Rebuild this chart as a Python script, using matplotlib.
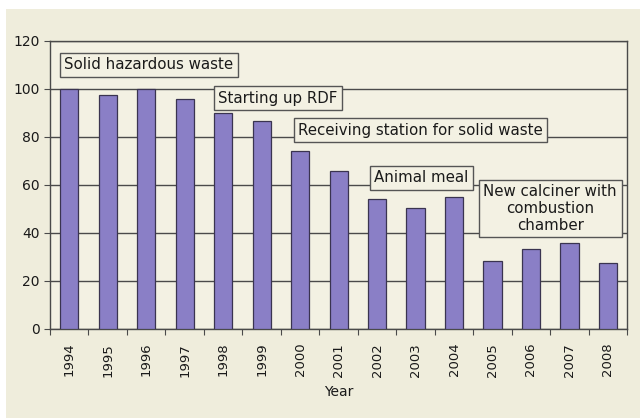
import matplotlib.pyplot as plt
import matplotlib.patches as mpatches

# datos
years = ['1994', '1995', '1996', '1997', '1998', '1999', '2000', '2001',
         '2002', '2003', '2004', '2005', '2006', '2007', '2008']
values = [100, 97.5, 99.8, 96, 90, 86.5, 74, 66, 54, 50.5, 55, 28.5, 33.5, 36, 27.5]

notes = ['Solid hazardous waste', 'Starting up RDF', 'Receiving station for solid waste',
         'Animal meal', 'New calciner with\ncombustion\nchamber']
note_x = [2.07, 5.43, 9.13, 9.15, 12.5]
note_y = [110, 96.2, 82.7, 63.1, 50.2]

bg = '#EFEDDC'
plot_bg = '#F3F1E3'
bar_col = '#8A7FC6'
line_col = '#4a4a4a'

fig = plt.figure(figsize=(6.4, 4.18), dpi=100)
fig.patch.set_facecolor('white')
fig.add_artist(mpatches.Rectangle((0.01, 0), 0.99, 0.978, transform=fig.transFigure,
                                  facecolor=bg, edgecolor='none', zorder=-10))

ax = fig.add_axes([0.078, 0.213, 0.902, 0.689])
ax.set_facecolor(plot_bg)

x = list(range(len(years)))
ax.bar(x, values, width=0.47, color=bar_col, edgecolor='#3a3450', linewidth=0.9, zorder=3)

ax.set_xlim(-0.5, len(years) - 0.5)
ax.set_ylim(0, 120)
ax.set_yticks([0, 20, 40, 60, 80, 100, 120])
ax.yaxis.grid(True, color=line_col, linewidth=1.0, zorder=0)
ax.set_axisbelow(True)

# ticks entre categorias, estilo Excel
ax.set_xticks([i - 0.5 for i in range(len(years) + 1)], minor=False)
ax.set_xticklabels([])
ax.set_xticks(x, minor=True)
ax.set_xticklabels(years, minor=True, rotation=90, fontsize=9.5, color='#1a1a1a')
ax.tick_params(axis='x', which='major', length=4, direction='out', color=line_col)
ax.tick_params(axis='x', which='minor', length=0, pad=10)
ax.tick_params(axis='y', length=4, direction='out', color=line_col, labelsize=10,
               labelcolor='#1a1a1a')

for s in ax.spines.values():
    s.set_color(line_col)
    s.set_linewidth(1.0)

ax.set_xlabel('Year', fontsize=10, color='#1a1a1a', labelpad=6)

for t, xx, yy in zip(notes, note_x, note_y):
    ax.text(xx, yy, t, ha='center', va='center', fontsize=10.8, color='#1a1a1a',
            linespacing=1.15, zorder=5,
            bbox=dict(boxstyle='square,pad=0.3', facecolor=plot_bg, edgecolor='#555555',
                      linewidth=1.0))

plt.savefig('out.png', dpi=100)
